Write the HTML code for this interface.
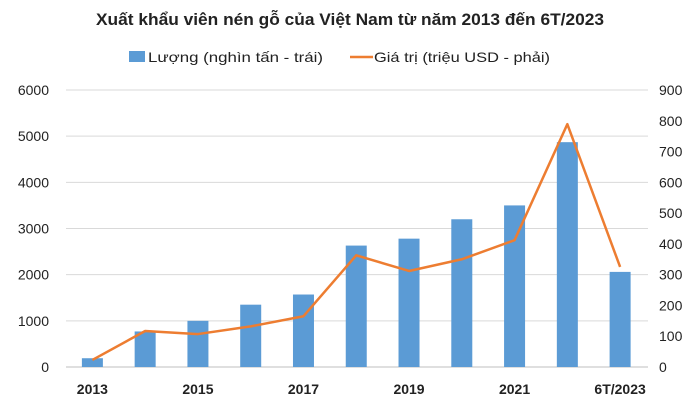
<!DOCTYPE html>
<html><head><meta charset="utf-8"><style>
html,body{margin:0;padding:0;background:#fff}
svg{display:block;font-family:"Liberation Sans",sans-serif}
</style></head><body>
<svg id="chart" width="700" height="420" viewBox="0 0 700 420">
<text x="350" y="25" text-anchor="middle" font-size="17" font-weight="bold" fill="#222" textLength="508" lengthAdjust="spacingAndGlyphs">Xuất khẩu viên nén gỗ của Việt Nam từ năm 2013 đến 6T/2023</text>
<g>
<rect x="129" y="51" width="16" height="11" fill="#5b9bd5"/>
<text x="148" y="62" font-size="14" fill="#222" textLength="175" lengthAdjust="spacingAndGlyphs">Lượng (nghìn tấn - trái)</text>
<line x1="350" y1="57" x2="373" y2="57" stroke="#ed7d31" stroke-width="2.5"/>
<text x="374" y="62" font-size="14" fill="#222" textLength="176" lengthAdjust="spacingAndGlyphs">Giá trị (triệu USD - phải)</text>
</g>
<g id="grid"></g><g id="bars"></g><g id="line"></g><g id="axes"></g>
</svg>
<script>
const categories=["2013","2014","2015","2016","2017","2018","2019","2020","2021","2022","6T/2023"];
const volume=[190,770,1000,1350,1570,2630,2780,3200,3500,4870,2060];
const value=[23,117,107,132,165,363,312,350,412,789,325];
const leftTicks=[0,1000,2000,3000,4000,5000,6000];
const rightTicks=[0,100,200,300,400,500,600,700,800,900];
const xLabels=["2013","2015","2017","2019","2021","6T/2023"];
const NS="http://www.w3.org/2000/svg";
const L=66,R=646.5,T=90,B=367;
const band=(R-L)/categories.length;
const x=i=>L+band*(i+0.5);
const yL=v=>B-(v/6000)*(B-T);
const yR=v=>B-(v/900)*(B-T);
function mk(tag,parent,attrs){const e=document.createElementNS(NS,tag);for(const k in attrs)e.setAttribute(k,attrs[k]);document.getElementById(parent).appendChild(e);return e;}
leftTicks.forEach(t=>{
 const g=mk('line','grid',{x1:66,x2:648,y1:yL(t),y2:yL(t),stroke:t===0?'#bfbfbf':'#d9d9d9','stroke-width':1});
 
 
 const tx=mk('text','axes',{x:49,y:yL(t)+5,'text-anchor':'end','font-size':14,fill:'#222'});
 tx.textContent=t;
 
 
});
rightTicks.forEach(t=>{
 const tx=mk('text','axes',{x:659,y:yR(t)+5,'font-size':14,fill:'#222'});
 tx.textContent=t;
 
 
});
categories.forEach((c,i)=>{
 const r=mk('rect','bars',{x:x(i)-10.5,y:yL(volume[i]),width:21,height:B-yL(volume[i]),fill:'#5b9bd5'});
 
 
 if(xLabels.includes(c)){
  const tx=mk('text','axes',{x:x(i),y:394,'text-anchor':'middle','font-size':14,'font-weight':'bold',fill:'#222'});
  tx.textContent=c;
  
  
 }
});
const p=mk('polyline','line',{points:value.map((v,i)=>x(i)+','+yR(v)).join(' '),fill:'none',stroke:'#ed7d31','stroke-width':2.5,'stroke-linejoin':'round'});


</script>
</body></html>
